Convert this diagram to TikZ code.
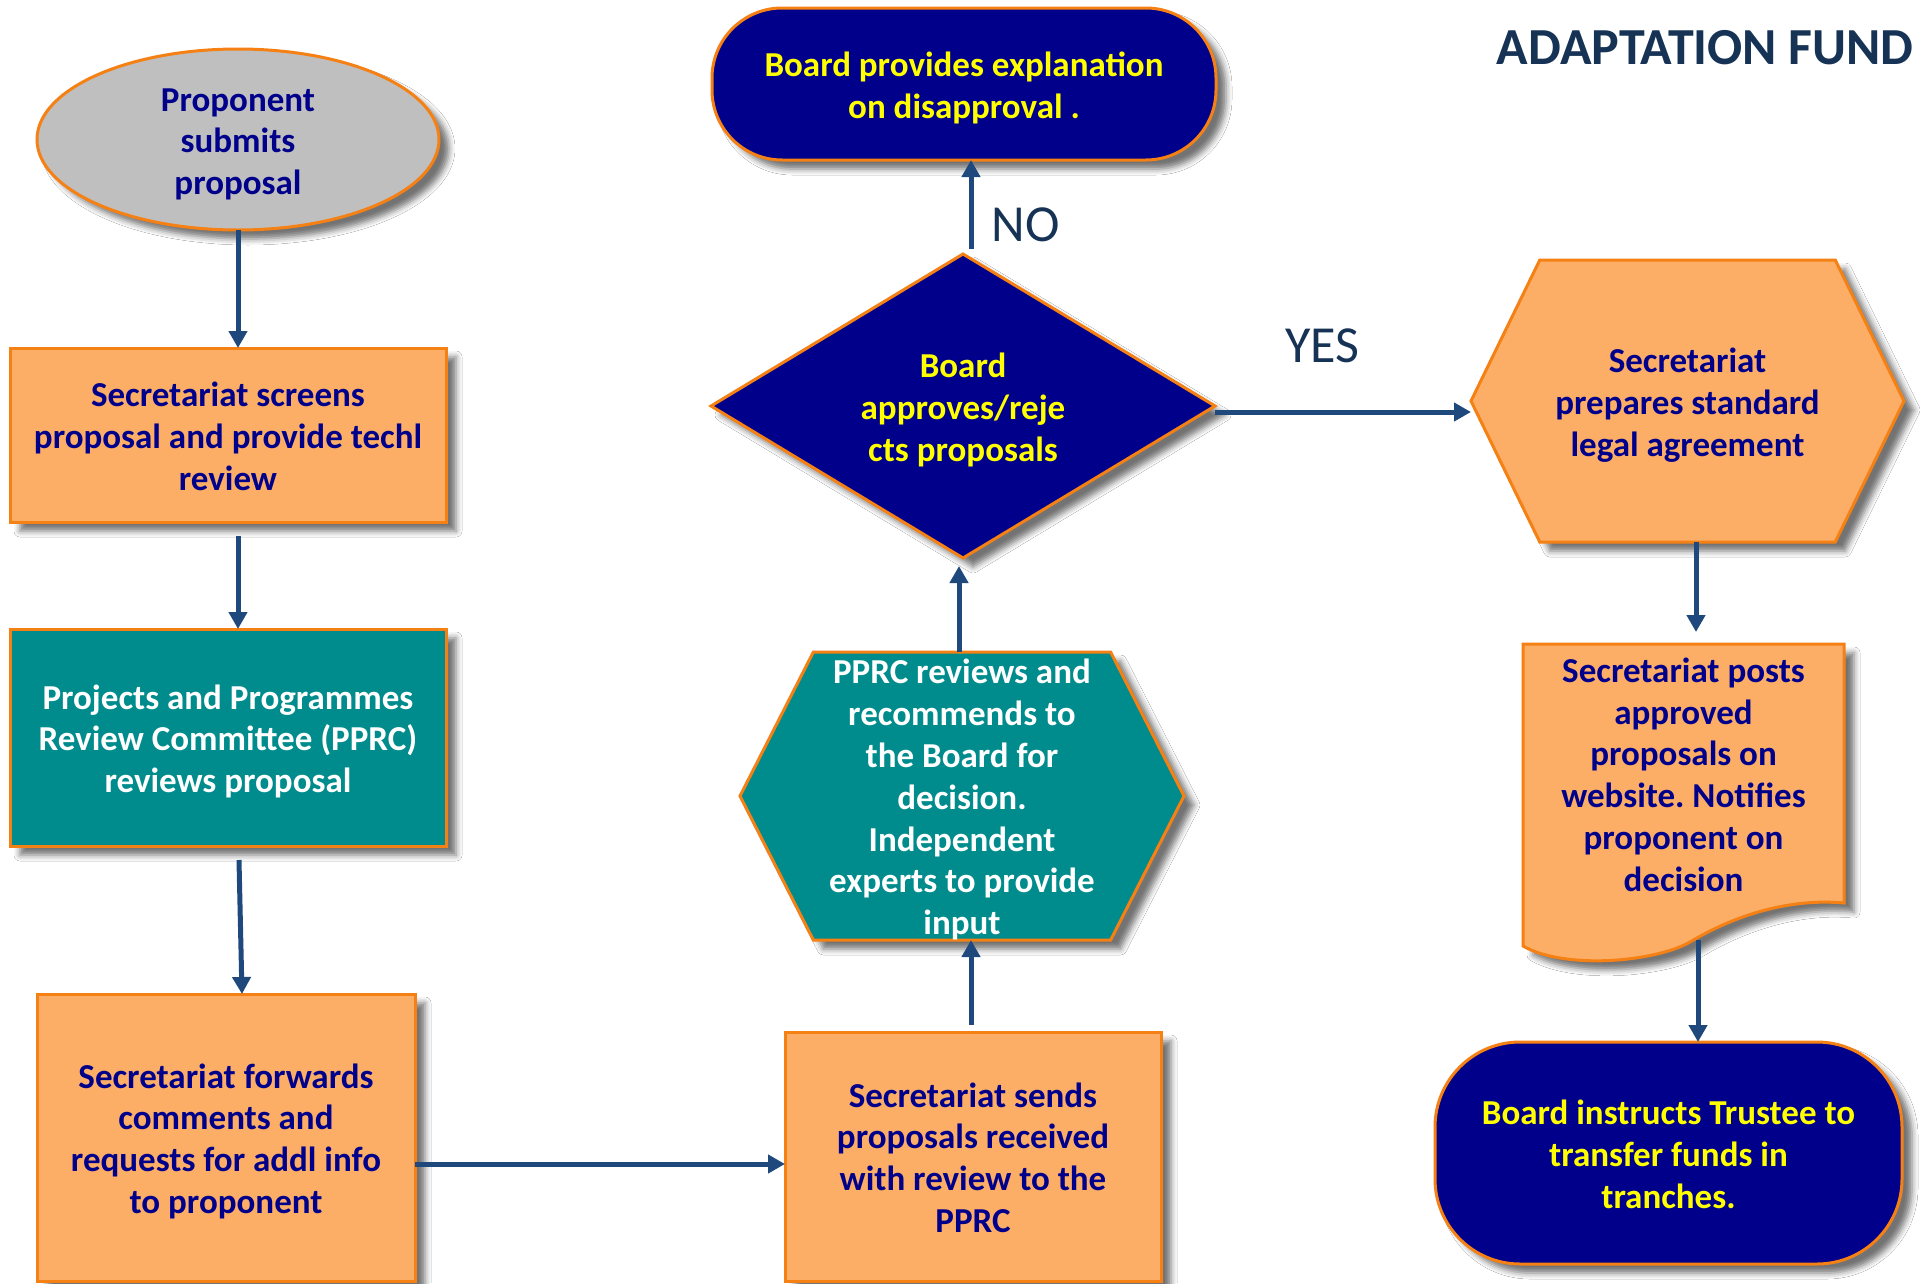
\documentclass[tikz,border=0pt]{standalone}
\usepackage{fontspec}
\setmainfont{Carlito}
\frenchspacing
\usetikzlibrary{positioning, calc, arrows.meta, shapes.geometric, shapes.symbols, shadows.blur}
\definecolor{afnavy}{RGB}{0,0,139}
\definecolor{afteal}{RGB}{0,140,140}
\definecolor{aforange}{RGB}{252,174,102}
\definecolor{afborder}{RGB}{245,128,20}
\definecolor{afgray}{RGB}{191,191,191}
\definecolor{afarrow}{RGB}{31,73,125}
\definecolor{aftitle}{RGB}{22,50,85}
\definecolor{afyellow}{RGB}{255,255,0}
% taller strut on top, so the lines sit a little lower in their boxes
\newcommand{\lowstrut}{\setbox\strutbox\hbox{\vrule height 34.2pt depth 7.6pt width 0pt}}

\tikzset{
  boxfont/.style={font=\fontsize{35}{41.8}\selectfont\bfseries\lowstrut},
  dropshadow/.style={blur shadow={shadow xshift=10pt, shadow yshift=-9pt, shadow blur radius=6pt, shadow opacity=55}},
  orangebox/.style={rectangle, draw=afborder, line width=3pt, fill=aforange, text=afnavy, boxfont, inner sep=0pt, outer sep=0pt, dropshadow},
  tealbox/.style={orangebox, fill=afteal, text=white},
  navyend/.style={rectangle, draw=afborder, line width=3pt, fill=afnavy, text=afyellow, boxfont, inner sep=0pt, outer sep=0pt, dropshadow},
  hexbox/.style={signal, signal to=west and east, draw=afborder, line width=3pt, inner sep=0pt, outer sep=0pt, dropshadow},
  flowarrow/.style={draw=afarrow, line width=5pt, -{Triangle[length=17pt,width=18pt]}},
  answer/.style={font=\fontsize{52}{62}\selectfont, text=aftitle, inner sep=0pt},
}

\begin{document}
\begin{tikzpicture}[x=1pt, y=-1pt]

\fill[white] (0,0) rectangle (1920,1283);
\useasboundingbox (0,0) rectangle (1920,1283);

% left column
\node[ellipse, draw=afborder, line width=3pt, fill=afgray, text=afnavy, boxfont, inner sep=0pt, outer sep=0pt,
      minimum width=402pt, minimum height=181pt, dropshadow] (start) at (238,139.5) {
    \begin{tabular}{c}
    Proponent\\
    submits\\
    proposal
    \end{tabular}
    };
\node[orangebox, minimum width=436pt, minimum height=174pt, below=118pt of start, xshift=-10pt] (screen) {
    \begin{tabular}{c}
    Secretariat screens\\
    proposal and provide techl\\
    review
    \end{tabular}
    };
\node[tealbox, minimum width=436pt, minimum height=217pt, below=107pt of screen] (pprc) {
    \begin{tabular}{c}
    Projects and Programmes\\
    Review Committee (PPRC)\\
    reviews proposal
    \end{tabular}
    };
\node[orangebox, minimum width=378pt, minimum height=287pt, below=148pt of pprc, xshift=-2pt] (forward) {
    \begin{tabular}{c}
    Secretariat forwards\\
    comments and\\
    requests for addl info\\
    to proponent
    \end{tabular}
    };

% -------

\node[orangebox, minimum width=376pt, minimum height=249pt, right=370pt of forward, yshift=-19pt] (sends) {
    \begin{tabular}{c}
    Secretariat sends\\
    proposals received\\
    with review to the\\
    PPRC
    \end{tabular}
    };
\node[hexbox, fill=afteal, signal pointer angle=126, minimum width=444pt, minimum height=288pt,
      above=92pt of sends, xshift=-11pt,
      label={[boxfont, text=white, inner sep=0pt]center:{
    \begin{tabular}{c}
    PPRC reviews and\\
    recommends to\\
    the Board for\\
    decision.\\
    Independent\\
    experts to provide\\
    input
    \end{tabular}}}] (review) {};
\node[diamond, aspect=1.65, draw=afborder, line width=3pt, fill=afnavy, text=afyellow, boxfont, inner sep=0pt, outer sep=0pt,
      minimum width=504pt, minimum height=304pt, dropshadow, above=94pt of review, xshift=1pt] (decide) {
    \begin{tabular}{c}
    Board\\
    approves/reje\\
    cts proposals
    \end{tabular}
    };
\node[navyend, rounded corners=70pt, minimum width=504pt, minimum height=152pt, above=94pt of decide, xshift=1pt] (explain) {
    \begin{tabular}{c}
    Board provides explanation\\
    on disapproval .
    \end{tabular}
    };

% -------

\node[hexbox, fill=aforange, signal pointer angle=128, minimum width=433pt, minimum height=282pt,
      right=256pt of decide, yshift=5pt,
      label={[boxfont, text=afnavy, inner sep=0pt]center:{
    \begin{tabular}{c}
    Secretariat\\
    prepares standard\\
    legal agreement
    \end{tabular}}}] (legal) {};

% page with a wavy foot
\path[draw=afborder, line width=3pt, fill=aforange, dropshadow]
    (1523,644) -- (1844,644) -- (1844,903)
    .. controls (1790,898) and (1735,915) .. (1690,942)
    .. controls (1655,962) and (1565,970) .. (1523,946)
    -- cycle;
\node[rectangle, text=afnavy, boxfont, inner sep=0pt, outer sep=0pt, minimum width=321pt, minimum height=259pt] (posts) at (1683.5,773.5) {
    \begin{tabular}{c}
    Secretariat posts\\
    approved\\
    proposals on\\
    website. Notifies\\
    proponent on\\
    decision
    \end{tabular}
    };
\node[navyend, rounded corners=85pt, minimum width=467pt, minimum height=222pt, below=139pt of posts, xshift=-15pt] (trust) {
    \begin{tabular}{c}
    Board instructs Trustee to\\
    transfer funds in\\
    tranches.
    \end{tabular}
    };

\node[anchor=east, font=\fontsize{52}{62}\selectfont\bfseries, text=aftitle, inner sep=0pt] (title) at (1914,48) {ADAPTATION FUND};

% connectors
\draw[flowarrow] (start.south) -- (start.south |- screen.north);
\draw[flowarrow] ($(screen.south)+(10,14)$) -- ($(pprc.north)+(10,0)$);
\draw[flowarrow] ($(pprc.south)+(11,14)$) -- ($(forward.north)+(16,0)$);
\draw[flowarrow] ($(forward.east)+(0,26.5)$) -- ($(forward.east -| sends.west)+(0,26.5)$);
\draw[flowarrow] ($(sends.north)+(-2,-7)$) -- ($(sends.north |- review.south)+(-2,0)$);
\draw[flowarrow] ($(review.north)+(-3,0)$) -- ($(review.north |- decide.south)+(-3,8)$);
\draw[flowarrow] ($(decide.north)+(8,-5)$) -- ($(decide.north |- explain.south)+(8,0)$)
    node[answer, pos=0.27, right=18pt] {NO};
\draw[flowarrow] ($(decide.east)+(0,6)$) -- ($(decide.east -| legal.west)+(0,6)$)
    node[answer, pos=0.42, above=47pt] {YES};
\draw[flowarrow] ($(legal.south)+(8.5,0)$) -- ($(legal.south |- posts.north)+(8.5,-12)$);
\draw[flowarrow] ($(posts.south)+(14.5,37)$) -- ($(posts.south |- trust.north)+(14.5,0)$);

\end{tikzpicture}
\end{document}
